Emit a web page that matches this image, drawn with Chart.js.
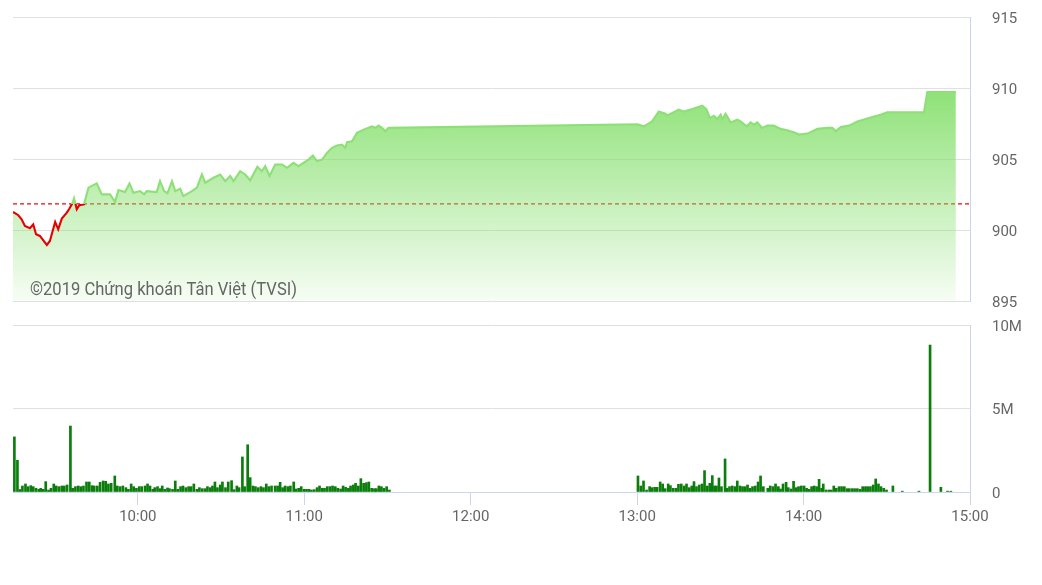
<!DOCTYPE html>
<html>
<head>
<meta charset="utf-8">
<script src="https://cdn.jsdelivr.net/npm/chart.js@4.4.1/dist/chart.umd.min.js"></script>
<style>
  body { margin: 0; background: #fff; }
  #wrap { position: relative; width: 1042px; height: 585px; }
  canvas { position: absolute; left: 0; }
  #priceChart { top: 0; }
  #volChart { top: 310px; }
</style>
</head>
<body>
<div id="wrap">
  <canvas id="priceChart" width="1042" height="310"></canvas>
  <canvas id="volChart" width="1042" height="275"></canvas>
</div>
<script>
// thoi gian tinh bang phut ke tu 9:00
const refPrice = 901.84;

const priceTimes = [15.0,16.9,18.1,19.3,21.1,22.3,23.3,24.7,27.2,28.3,30.2,31.3,32.6,34.4,35.3,36.5,37.0,38.0,38.9,40.6,
  42.2,45.2,47.0,50.0,51.8,53.0,55.4,57.0,58.4,60.8,62.3,63.2,66.8,68.0,69.5,70.7,72.3,73.5,75.3,76.4,
  79.5,81.3,83.1,84.3,87.3,89.7,91.5,93.3,94.5,96.9,98.7,100.5,103.1,104.7,105.9,107.5,109.5,112.0,113.8,116.1,
  117.9,119.7,121.5,123.1,124.6,126.4,128.2,130.0,131.8,133.6,134.8,135.4,137.2,139.0,141.4,144.4,145.6,146.8,148.0,149.2,
  150.4,240.1,242.4,245.4,247.8,250.2,250.8,252.7,255.0,256.8,259.9,263.5,265.0,266.2,267.7,268.9,270.1,270.7,271.9,273.7,
  276.1,277.3,279.5,280.9,282.1,283.3,285.1,286.9,289.3,291.7,294.1,296.5,298.3,301.4,303.2,305.0,308.6,310.4,311.6,313.4,
  316.4,319.4,322.4,325.4,327.8,330.1,343.4,344.6,354.9];

const prices = [901.27,901.04,900.75,900.28,900.13,900.40,899.70,899.58,898.95,899.23,900.57,900.05,900.80,901.22,901.50,901.92,902.23,901.46,901.74,901.81,
  902.98,903.28,902.51,902.51,901.97,902.81,902.67,903.28,902.63,902.74,902.51,902.74,902.67,903.44,902.74,902.60,903.44,902.74,902.91,902.39,
  902.74,902.98,903.91,903.33,903.68,903.91,903.44,903.80,903.44,904.14,903.91,903.50,904.45,904.14,904.49,903.80,904.61,904.61,904.38,904.73,
  904.49,904.73,904.96,905.25,904.85,904.96,905.43,905.79,905.95,906.02,905.79,906.18,906.25,906.84,907.07,907.30,907.20,907.35,907.19,906.95,
  907.19,907.45,907.30,907.65,908.35,908.19,908.06,908.24,908.47,908.35,908.52,908.75,908.50,907.89,908.05,907.82,908.12,907.80,908.19,907.58,
  907.77,907.65,907.30,907.58,907.42,907.58,907.19,907.35,907.35,907.12,907.02,906.88,906.72,906.79,906.95,907.12,907.19,907.19,906.95,907.26,
  907.35,907.65,907.82,908.00,908.12,908.28,908.28,909.72,909.72];

const volTimes = [15.5,16.6,17.5,18.4,19.5,20.4,21.4,22.3,23.3,24.3,25.0,25.9,26.8,27.8,28.7,29.7,30.6,31.6,32.6,33.5,
  34.5,35.7,36.5,37.5,38.5,39.4,40.4,41.5,42.5,43.5,44.3,45.4,46.4,47.5,48.4,49.4,50.4,51.7,52.6,53.6,
  54.6,55.7,56.6,57.6,58.5,59.5,60.5,61.4,
  62.6,63.5,64.4,65.4,66.1,67.1,68.0,68.8,69.7,70.7,71.4,72.5,73.5,74.4,75.4,76.3,77.3,78.3,79.2,80.2,
  81.3,82.2,83.2,84.2,85.1,86.1,86.9,87.8,88.7,89.7,90.5,91.6,92.6,93.8,94.7,95.7,96.5,97.7,98.5,99.6,
  100.5,101.5,102.4,103.4,104.4,105.3,106.3,107.2,108.2,
  109.5,110.4,111.3,112.2,113.1,114.1,115.0,116.2,117.1,118.0,118.9,119.9,120.8,121.7,122.6,123.6,124.6,125.5,126.5,127.3,
  128.3,129.3,130.2,131.2,132.1,133.1,134.0,134.9,135.9,136.7,137.7,138.5,139.5,140.4,141.4,142.4,143.3,144.3,145.3,146.0,
  146.9,147.8,148.7,149.7,150.7,
  240.3,241.3,242.3,243.4,244.5,245.3,246.3,247.2,248.3,249.2,250.1,251.2,252.0,253.0,254.0,254.9,255.9,256.9,257.8,258.8,
  259.7,260.5,261.4,262.4,263.4,264.3,265.3,266.2,267.1,267.9,268.6,269.5,270.4,271.7,272.4,273.3,274.3,275.3,276.1,277.1,
  278.0,278.9,279.8,280.7,281.6,282.6,283.6,284.5,285.5,
  287.1,288.0,289.0,289.9,290.9,291.7,292.6,293.7,294.5,295.5,296.4,297.4,298.2,299.2,300.2,301.1,302.0,302.9,303.8,304.7,
  305.6,306.5,307.1,308.1,309.1,310.0,310.9,311.8,312.8,313.7,314.7,315.7,316.5,317.5,318.4,319.4,320.4,321.3,322.3,323.1,
  324.1,325.1,326.0,327.0,327.9,328.9,329.9,332.2,
  335.6,341.6,345.6,349.5,351.9,353.1];

// khoi luong (trieu cp)
const volumes = [3.3,1.9,0.15,0.36,0.48,0.32,0.38,0.32,0.22,0.16,0.22,0.16,0.62,0.12,0.22,0.48,0.36,0.32,0.36,0.36,
  0.42,3.95,0.22,0.32,0.36,0.32,0.36,0.6,0.6,0.38,0.36,0.36,0.58,0.66,0.64,0.48,0.52,0.96,0.36,0.32,
  0.36,0.26,0.16,0.48,0.32,0.22,0.32,0.32,
  0.36,0.48,0.36,0.16,0.26,0.32,0.2,0.36,0.16,0.24,0.2,0.16,0.66,0.16,0.32,0.36,0.26,0.32,0.32,0.48,
  0.16,0.26,0.2,0.2,0.32,0.26,0.36,0.6,0.26,0.42,0.6,0.26,0.6,0.68,0.14,0.36,0.26,2.1,0.32,2.83,
  0.86,0.36,0.32,0.26,0.32,0.26,0.48,0.32,0.36,
  0.36,0.36,0.58,0.26,0.36,0.32,0.36,0.6,0.18,0.22,0.32,0.16,0.16,0.16,0.12,0.14,0.26,0.36,0.22,0.22,
  0.32,0.32,0.36,0.32,0.22,0.18,0.36,0.28,0.22,0.36,0.42,0.52,0.36,0.8,0.52,0.56,0.6,0.22,0.2,0.2,
  0.36,0.32,0.22,0.32,0.12,
  0.96,0.36,0.66,0.12,0.32,0.26,0.28,0.28,0.6,0.48,0.2,0.48,0.38,0.22,0.22,0.46,0.48,0.36,0.48,0.26,
  0.36,0.62,0.32,0.42,0.48,1.28,0.36,0.52,0.98,0.36,0.36,0.84,0.32,1.98,0.22,0.32,0.36,0.32,0.66,0.36,
  0.32,0.32,0.42,0.22,0.32,0.36,0.6,0.96,0.32,
  0.22,0.36,0.32,0.48,0.32,0.18,0.48,0.58,0.26,0.18,0.64,0.26,0.32,0.36,0.36,0.22,0.16,0.32,0.36,0.32,
  0.76,0.22,0.48,0.12,0.12,0.12,0.36,0.22,0.32,0.32,0.32,0.2,0.2,0.2,0.2,0.2,0.16,0.32,0.32,0.32,
  0.32,0.42,0.78,0.48,0.32,0.22,0.12,0.36,
  0.05,0.05,8.8,0.28,0.05,0.05];

const timeTicks = [60, 120, 180, 240, 300, 360];
const timeLabels = ['10:00', '11:00', '12:00', '13:00', '14:00', '15:00'];
const priceTicks = [895, 900, 905, 910, 915];
const volTicks = [0, 5, 10];
const volLabels = ['0', '5M', '10M'];

const FONT = 'Roboto, "Noto Sans", sans-serif';
const GRID = '#e0e0e0';
const AXIS = '#ccd6eb';
const T_MIN = 15, T_MAX = 360;

Chart.defaults.font.family = FONT;
Chart.defaults.font.size = 15;
Chart.defaults.color = '#666';

// xanh tren gia tham chieu, do duoi gia tham chieu
function lineColor(ctx) {
  const chart = ctx.chart, area = chart.chartArea;
  if (!area) return '#8fe07a';
  const yRef = chart.scales.y.getPixelForValue(refPrice);
  const r = Math.min(1, Math.max(0, (yRef - area.top) / (area.bottom - area.top)));
  const g = chart.ctx.createLinearGradient(0, area.top, 0, area.bottom);
  g.addColorStop(0, '#8ce076');
  g.addColorStop(r, '#8ce076');
  g.addColorStop(r, '#e60000');
  g.addColorStop(1, '#e60000');
  return g;
}

function areaFill(ctx) {
  const chart = ctx.chart, area = chart.chartArea;
  if (!area) return 'rgba(130,222,105,0.4)';
  const top = chart.scales.y.getPixelForValue(Math.max(...prices));
  const g = chart.ctx.createLinearGradient(0, top, 0, area.bottom);
  g.addColorStop(0, 'rgba(128,222,102,0.88)');
  g.addColorStop(1, 'rgba(128,222,102,0.07)');
  return g;
}

const watermark = {
  id: 'watermark',
  afterDatasetsDraw(chart) {
    const c = chart.ctx;
    c.save();
    c.font = '18px ' + FONT;
    c.fillStyle = '#666';
    c.textBaseline = 'alphabetic';
    c.fillText('©2019 Chứng khoán Tân Việt (TVSI)', 30, 295, 267);
    c.restore();
  }
};

// khoang cach nhan truc phai: dung tickLength trong suot, khong dung ticks.padding
const rightGrid = { color: GRID, drawTicks: true, tickLength: 22, tickColor: 'rgba(0,0,0,0)' };

new Chart(document.getElementById('priceChart'), {
  type: 'line',
  data: {
    datasets: [
      {
        data: priceTimes.map((t, i) => ({ x: t, y: prices[i] })),
        borderColor: lineColor,
        backgroundColor: areaFill,
        fill: 'start',
        borderWidth: 2.1,
        pointRadius: 0,
        tension: 0,
        order: 0
      },
      {
        data: [{ x: T_MIN, y: refPrice }, { x: T_MAX, y: refPrice }],
        borderColor: 'rgba(225,0,0,0.95)',
        borderWidth: 1.3,
        borderDash: [4, 3],
        pointRadius: 0,
        fill: false,
        order: 1
      }
    ]
  },
  options: {
    responsive: false,
    animation: false,
    events: [],
    layout: { padding: { left: 13, top: 17, right: 0, bottom: 8 } },
    plugins: { legend: { display: false }, tooltip: { enabled: false } },
    scales: {
      x: { type: 'linear', display: false, min: T_MIN, max: T_MAX },
      y: {
        position: 'right', min: 895, max: 915,
        afterBuildTicks: s => { s.ticks = priceTicks.map(v => ({ value: v })); },
        afterFit: s => { s.width = 72; },
        grid: rightGrid,
        border: { color: AXIS },
        ticks: { padding: 0, labelOffset: 2 }
      }
    }
  },
  plugins: [watermark]
});

new Chart(document.getElementById('volChart'), {
  type: 'bar',
  data: {
    datasets: [{
      data: volTimes.map((t, i) => ({ x: t, y: volumes[i] })),
      backgroundColor: '#0a7d0a',
      barThickness: 2,
      borderWidth: 0
    }]
  },
  options: {
    responsive: false,
    animation: false,
    events: [],
    layout: { padding: { left: 13, top: 15, right: 0, bottom: 0 } },
    plugins: { legend: { display: false }, tooltip: { enabled: false } },
    scales: {
      x: {
        type: 'linear', min: T_MIN, max: T_MAX, offset: false,
        afterBuildTicks: s => { s.ticks = timeTicks.map(v => ({ value: v })); },
        afterFit: s => { s.height = 93; },
        grid: { offset: false, drawOnChartArea: false, drawTicks: true, tickLength: 13, color: AXIS },
        border: { color: AXIS },
        ticks: { padding: 3, maxRotation: 0, autoSkip: false, callback: (v, i) => timeLabels[i] }
      },
      y: {
        position: 'right', min: 0, max: 10,
        afterBuildTicks: s => { s.ticks = volTicks.map(v => ({ value: v })); },
        afterFit: s => { s.width = 72; },
        grid: rightGrid,
        border: { color: AXIS },
        ticks: { padding: 0, labelOffset: 2, callback: (v, i) => volLabels[i] }
      }
    }
  }
});
</script>
</body>
</html>
